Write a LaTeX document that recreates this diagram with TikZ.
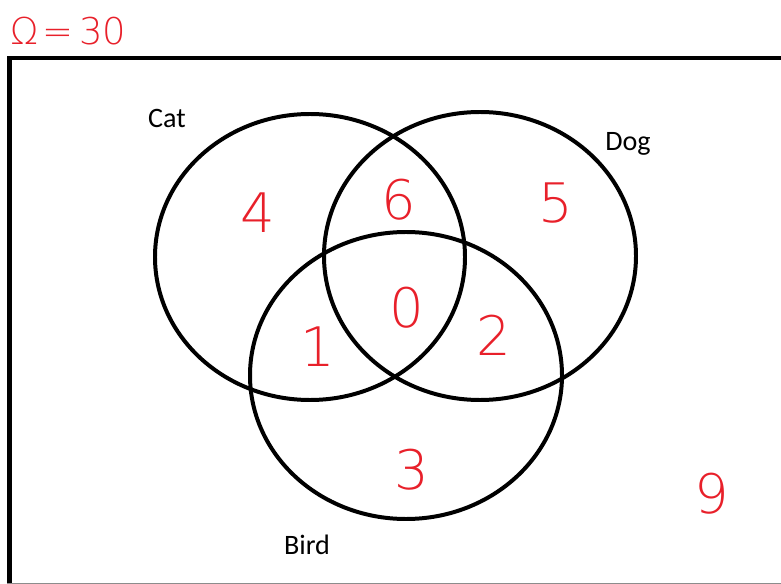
\documentclass[tikz,border=0pt]{standalone}
\usepackage{fontspec}
\setmainfont{Carlito}
\newfontfamily\handfont{DejaVu Sans ExtraLight}
\usepackage{xcolor}
\usetikzlibrary{positioning}
\definecolor{vennred}{HTML}{E8202A}
\definecolor{venngray}{HTML}{8C8C8C}

\begin{document}
\begin{tikzpicture}[
    x=0.02cm, y=-0.02cm,
    setline/.style={line width=2.27pt,black},
    setlabel/.style={font=\fontsize{16}{16}\selectfont,inner sep=0pt},
    count/.style={font=\handfont\fontsize{31}{31}\selectfont,color=vennred,inner sep=0pt},
  ]
    \useasboundingbox (0,0) rectangle (781,584);

    % universe frame (cut off at the right and bottom)
    \draw[line width=2.55pt] (9.7,600) -- (9.7,58) -- (800,58);
    \draw[venngray,line width=0.57pt] (7,583) -- (781,583);

    % the three sets
    \draw[setline] (310,257) ellipse [x radius=155, y radius=143];
    \draw[setline] (480,256) ellipse [x radius=156, y radius=144];
    \draw[setline] (406,375.5) ellipse [x radius=156, y radius=143.5];

    \node[setlabel] (cat) at (167,118) {Cat};
    \node[setlabel] (dog) at (628,144) {Dog};
    \node[setlabel] (bird) at (307,545) {Bird};

    \node[count,font=\handfont\fontsize{21}{21}\selectfont,anchor=west] (omega) at (10,31) {Ω\kern0.12em=\kern0.15em30};
    \node[count] (catonly) at (258,213) {4};
    \node[count] (catdog) at (399,200) {6};
    \node[count] (dogonly) at (556,203) {5};
    \node[count] (all) at (407,308) {0};
    \node[count] (catbird) at (318,347) {1};
    \node[count] (dogbird) at (494,335) {2};
    \node[count] (birdonly) at (412,470) {3};
    \node[count] (none) at (712,494) {9};
\end{tikzpicture}
\end{document}
